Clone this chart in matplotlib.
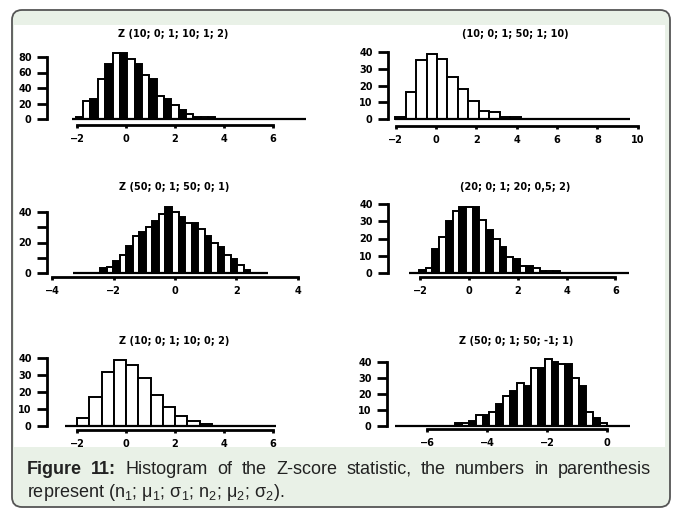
import matplotlib
matplotlib.use('Agg')
import matplotlib.pyplot as plt
from matplotlib.patches import FancyBboxPatch, Rectangle

plt.rcParams['font.family'] = ['Liberation Sans', 'DejaVu Sans']
plt.rcParams['mathtext.fontset'] = 'custom'
plt.rcParams['mathtext.rm'] = 'Liberation Sans'
plt.rcParams['mathtext.bf'] = 'Liberation Sans:bold'

# ---- data ----
titles = ["Z (10; 0; 1; 10; 1; 2)", "(10; 0; 1; 50; 1; 10)",
          "Z (50; 0; 1; 50; 0; 1)", "(20; 0; 1; 20; 0,5; 2)",
          "Z (10; 0; 1; 10; 0; 2)", "Z (50; 0; 1; 50; -1; 1)"]

x_ticks = [[-2, 0, 2, 4, 6],
           [-2, 0, 2, 4, 6, 8, 10],
           [-4, -2, 0, 2, 4],
           [-2, 0, 2, 4, 6],
           [-2, 0, 2, 4, 6],
           [-6, -4, -2, 0]]

y_ticks = [[0, 20, 40, 60, 80],
           [0, 10, 20, 30, 40],
           [0, 10, 20, 30, 40],
           [0, 10, 20, 30, 40],
           [0, 10, 20, 30, 40],
           [0, 10, 20, 30, 40]]
y_labels = [[str(v) for v in t] for t in y_ticks]
y_labels[2] = ["0", "", "20", "", "40"]

bin_start = [-2.05, -2.03, -2.44, -2.05, -2.0, -5.07]
bin_width = [0.30, 0.52, 0.213, 0.275, 0.5, 0.23]

counts_1 = [2, 23, 26, 52, 71, 85, 85, 77, 71, 57, 52, 30, 26, 18, 12, 6, 3, 3, 2]
counts_2 = [1, 16, 35, 39, 36, 25, 18, 11, 5, 4, 1, 1]
counts_3 = [3, 4, 8, 12, 18, 24, 27, 30, 34, 39, 43, 40, 37, 33, 33, 29, 24, 20,
            17, 12, 9, 5, 2]
counts_4 = [2, 3, 14, 21, 30, 36, 38, 38, 38, 31, 25, 20, 15, 9, 8, 4, 4, 3, 1, 1, 1]
counts_5 = [5, 17, 32, 39, 36, 28, 18, 11, 6, 3, 1]
counts_6 = [2, 2, 3, 7, 7, 9, 14, 19, 22, 27, 25, 36, 36, 42, 40, 39, 39, 30, 25,
            9, 5, 2]
counts = [counts_1, counts_2, counts_3, counts_4, counts_5, counts_6]

# extent of the zero line under each histogram
zero_line = [(-2.2, 7.35), (-2.03, 9.6), (-3.32, 3.03), (-2.46, 6.56),
             (-2.49, 6.12), (-7.07, 0.77)]

caption_bold = "Figure 11:"
caption_line1 = "Histogram of the Z-score statistic, the numbers in parenthesis"
caption_line2 = r'represent (n$_1$; μ$_1$; σ$_1$; n$_2$; μ$_2$; σ$_2$).'

# ---- layout (pixels in the 680x514 picture) ----
W, H = 680, 514
# axes box (left, top, right, bottom), x px of 0, px per x unit, baseline px, px per count
layout = [
    ((47, 45, 310, 125), 126, 24.5, 119, 0.775),
    ((388, 45, 650, 126), 436, 20.17, 119, 1.675),
    ((47, 200, 305, 277), 175, 30.7, 273, 1.525),
    ((388, 195, 640, 277), 469, 24.4, 273, 1.725),
    ((47, 345, 310, 430), 126, 24.5, 426, 1.7),
    ((387, 345, 640, 429), 607, 30.0, 426, 1.6),
]
title_pos = [(173, 34), (515, 34), (174, 187), (515, 187), (174, 341), (516, 341)]
narrow = [True, False, True, True, False, True]

fig = plt.figure(figsize=(W / 100, H / 100), dpi=100)

# background: rounded green box with white inner panel
bg = fig.add_axes([0, 0, 1, 1])
bg.set_xlim(0, W)
bg.set_ylim(H, 0)
bg.axis('off')
bg.add_patch(FancyBboxPatch((12, 10), 658, 497,
                            boxstyle="round,pad=0,rounding_size=10",
                            facecolor='#e9f1e7', edgecolor='#555555', lw=1.3))
bg.add_patch(Rectangle((14, 25), 651, 422, facecolor='white', edgecolor='none'))

for i in range(6):
    (l, t, r, b), x0, xs, y0, ys = layout[i]
    ax = fig.add_axes([l / W, 1 - b / H, (r - l) / W, (b - t) / H])
    ax.patch.set_alpha(0)
    ax.set_xlim((l - x0) / xs, (r - x0) / xs)
    ax.set_ylim(-(b - y0) / ys, (y0 - t) / ys)

    edges = [bin_start[i] + k * bin_width[i] for k in range(len(counts[i]))]
    if narrow[i]:
        faces = ['black' if k % 2 == 0 else 'white' for k in range(len(counts[i]))]
    else:
        faces = 'white'
    ax.bar(edges, counts[i], width=bin_width[i], align='edge',
           color=faces, edgecolor='black', linewidth=1.4, zorder=3)
    ax.hlines(0, zero_line[i][0], zero_line[i][1], color='black', lw=1.6, zorder=4)

    for s in ['top', 'right']:
        ax.spines[s].set_visible(False)
    ax.spines['left'].set_bounds(y_ticks[i][0], y_ticks[i][-1])
    ax.spines['left'].set_linewidth(2.0)
    ax.spines['bottom'].set_bounds(x_ticks[i][0], x_ticks[i][-1])
    ax.spines['bottom'].set_linewidth(2.0)

    ax.set_yticks(y_ticks[i])
    ax.set_yticklabels(y_labels[i])
    ax.set_xticks(x_ticks[i])
    ax.set_xticklabels([str(v).replace('-', '\u2212') for v in x_ticks[i]])
    ax.tick_params(axis='y', length=7, width=2, pad=4, labelsize=7)
    ax.tick_params(axis='x', length=2.5, width=2, pad=4, labelsize=7)
    for lab in ax.get_xticklabels() + ax.get_yticklabels():
        lab.set_fontweight('bold')
        lab.set_family('DejaVu Sans')

    tx, ty = title_pos[i]
    fig.text(tx / W, 1 - ty / H, titles[i], ha='center', va='center',
             fontsize=7, fontweight='bold', family='DejaVu Sans')

# caption, first line justified between x=27 and x=651
cap_size = 13
cap_color = '#222222'
renderer = fig.canvas.get_renderer()
pieces = [(w, 'bold') for w in caption_bold.split()] + \
         [(w, 'normal') for w in caption_line1.split()]
texts = []
for word, weight in pieces:
    texts.append(fig.text(0, 1 - 474 / H, word, ha='left', va='baseline',
                          fontsize=cap_size, fontweight=weight, color=cap_color))
widths = [tx.get_window_extent(renderer).width for tx in texts]
gap = (651 - 27 - sum(widths)) / (len(texts) - 1)
x = 27
for tx, wd in zip(texts, widths):
    tx.set_x(x / W)
    x += wd + gap

fig.text(27 / W, 1 - 497 / H, caption_line2, ha='left', va='baseline',
         fontsize=cap_size, color=cap_color)

plt.savefig('out.png', dpi=100)
